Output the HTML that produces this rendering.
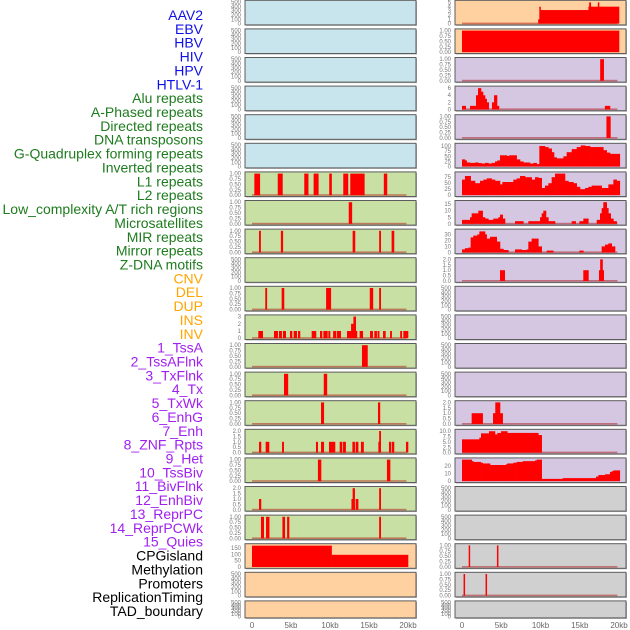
<!DOCTYPE html>
<html><head><meta charset="utf-8">
<style>
html,body{margin:0;padding:0;background:#fff;}
svg{display:block;font-family:"Liberation Sans",sans-serif;}
</style></head>
<body>
<svg id="chart" width="630" height="630" viewBox="0 0 630 630" xmlns="http://www.w3.org/2000/svg"></svg>
<script>
// ---- track labels ----
const trackLabels = ["AAV2","EBV","HBV","HIV","HPV","HTLV-1","Alu repeats","A-Phased repeats","Directed repeats","DNA transposons","G-Quadruplex forming repeats","Inverted repeats","L1 repeats","L2 repeats","Low_complexity A/T rich regions","Microsatellites","MIR repeats","Mirror repeats","Z-DNA motifs","CNV","DEL","DUP","INS","INV","1_TssA","2_TssAFlnk","3_TxFlnk","4_Tx","5_TxWk","6_EnhG","7_Enh","8_ZNF_Rpts","9_Het","10_TssBiv","11_BivFlnk","12_EnhBiv","13_ReprPC","14_ReprPCWk","15_Quies","CPGisland","Methylation","Promoters","ReplicationTiming","TAD_boundary"];
const labelGroups = ["v","v","v","v","v","v","g","g","g","g","g","g","g","g","g","g","g","g","g","o","o","o","o","o","p","p","p","p","p","p","p","p","p","p","p","p","p","p","p","k","k","k","k","k"];
const xTickLabels = ["0","5kb","10kb","15kb","20kb"];
const xTickValues = [0,5,10,15,20];

// ---- left column segments [startKb, endKb, value] ----
const L_row6 = [[0.3,1.0,1],[3.3,3.9,1],[6.7,7.2,1],[7.9,8.5,1],[9.9,10.2,1],[11.7,12.3,1],[12.6,14.4,1],[16.9,17.3,1]];
const L_row7 = [[12.4,12.8,1]];
const L_row8 = [[0.9,1.1,1],[3.7,3.95,1],[12.9,13.2,1],[16.3,16.5,1],[17.9,18.2,1]];
const L_row10 = [[1.7,1.9,1],[3.8,4.1,1],[9.5,10.1,1],[15.1,15.5,1],[16.3,16.5,1]];
const L_row11 = [[0.81,1.37,1],[2.82,3.29,1],[3.46,3.8,1],[3.97,4.32,1],[4.87,5.13,1],[5.34,5.73,1],[5.9,6.15,1],[7.65,8.2,1],[8.72,8.97,1],[9.15,9.66,1],[9.79,10.0,1],[10.4,10.77,1],[10.9,11.37,1],[12.18,12.7,1],[12.7,13.0,2],[13.0,13.3,3],[13.3,13.4,1],[13.8,14.2,1],[15.13,15.47,1],[15.68,15.98,1],[16.1,16.3,1],[16.8,17.1,1],[17.7,17.9,1],[19.0,19.2,1],[19.4,20.0,1]];
const L_row12 = [[14.1,14.8,1]];
const L_row13 = [[4.1,4.6,1],[9.2,9.6,1]];
const L_row14 = [[8.85,9.2,1],[16.15,16.4,1]];
const L_row15 = [[0.9,1.15,1],[1.75,2.18,1],[3.85,4.06,1],[8.2,8.42,1],[8.85,9.2,1],[9.87,10.64,1],[11.24,11.54,1],[11.67,12.0,1],[12.87,13.16,1],[13.29,13.6,1],[13.97,14.3,1],[16.2,16.3,1],[16.3,16.5,2],[17.56,17.82,1],[17.95,18.2,1],[19.74,20.0,1]];
const L_row16 = [[8.45,8.85,1],[17.3,17.7,1]];
const L_row17 = [[0.9,1.15,1],[12.75,12.9,1],[12.9,13.16,2],[13.29,13.6,1],[16.3,16.5,2]];
const L_row18 = [[1.15,1.5,1],[1.8,2.2,1],[3.9,4.2,1],[4.5,4.75,1],[16.3,16.5,1]];
const L_row19 = [[0,10.2,170],[10.2,20,97]];

// ---- right column ----
const R_row0 = [[9.7,9.85,1],[9.85,10.0,4],[10.0,16.1,3.2],[16.1,16.2,4],[16.2,16.4,5],[16.4,17.3,4],[17.3,17.45,5],[17.45,20,4]];
const R_row1 = [[0,20,1]];
const R_row2 = [[17.6,18.05,1]];
const R_row3 = [[0,0.47,1],[1.02,1.78,1],[1.78,2.04,4],[2.04,2.42,6],[2.42,2.68,5],[2.68,2.93,4],[2.93,3.14,3],[3.14,3.4,2],[3.82,4.08,2],[4.08,4.46,4],[4.46,4.71,1],[18.2,18.85,1]];
const R_row4 = [[18.4,18.9,1]];
const gquadX = [0,.38,.59,1.02,1.66,2.08,2.51,2.93,3.35,3.78,4.2,4.5,4.84,5.69,6.03,6.96,7.39,7.81,8.66,9.09,9.51,9.85,10.57,11.0,11.42,11.72,12.06,12.91,13.33,13.97,14.61,15.12,15.67,16.31,18.0,18.43,18.85,20.1];
const gquadV = [35,30,20,18,20,17,15,18,15,18,25,30,55,52,55,35,25,20,15,18,12,100,95,88,70,45,40,50,70,85,95,103,100,95,80,68,62];
const invX = [0,.38,1.1,1.66,2.29,2.72,3.14,3.78,4.2,4.84,5.14,5.69,6.54,6.96,7.39,8.03,8.87,9.3,9.72,10.15,10.57,11.0,11.42,11.85,13.12,13.55,14.18,14.61,15.03,15.67,16.09,16.52,17.79,18.64,19.28,19.7,20.1];
const invV = [65,80,60,50,60,65,70,65,60,45,55,55,65,70,80,75,65,75,72,30,40,50,75,92,60,55,50,35,25,30,35,40,30,45,65,60];
const lowX = [0,1.02,1.23,1.44,2.08,2.63,2.93,3.35,3.99,4.63,4.84,5.18,5.48,6.75,7.81,8.45,9.94,10.15,10.36,10.7,11.0,11.85,13.97,14.48,14.95,15.46,16.09,17.16,17.58,17.79,18.0,18.43,18.64,18.94,19.28,19.7,20.1];
const lowV = [3,5,8,8,10,5,4,3,4,5,7,4,0,2,0,2,5,8,10,5,2,0,2,0,2,4,0,3,8,12,18,12,8,4,2,0];
const mirX = [0,.38,.81,1.1,1.44,1.95,2.21,2.93,3.14,3.57,4.42,4.84,5.27,5.9,6.75,7.6,8.24,8.45,8.87,9.72,10.15,10.79,11.63,14.95,15.46,17.79,18.22,18.64,19.07,19.49,20.1];
const mirV = [5,7,8,25,28,30,35,30,23,26,18,6,4,0,5,4,5,18,23,10,0,3,0,3,0,10,13,15,10,0];
const R_row9 = [[4.84,5.44,1],[15.45,16.1,1],[17.45,17.6,1],[17.6,17.9,2],[17.9,18.05,1]];
const R_row14 = [[1.23,2.63,1],[3.95,4.24,1],[4.24,4.84,2],[4.84,5.18,1]];
const hetX = [0,2.21,2.42,3.44,4.2,4.5,4.97,5.77,9.72,10.15];
const hetV = [6.2,7,9,10,8.5,9.2,10,9.2,8.2];
const tssX = [0,1.23,1.44,2.38,2.63,3.57,5.6,5.77,6.54,6.96,7.73,9.3,9.51,10.15,12.82,17.07,17.37,18.22,18.85,19.07,19.28,20.1];
const tssV = [28,26,25,24,23,21,22,23,24,25,26,27,28,3,4,6,8,9,12,13,14];
const R_row19 = [[0.85,1.0,1],[4.45,4.6,1]];
const R_row20 = [[0.2,0.35,1],[3.0,3.15,1]];

// tick label sets
const t500 = ["0","100","200","300","400","500"];
const t1 = ["0.00","0.25","0.50","0.75","1.00"];
const t3 = ["0","1","2","3"];
const t2 = ["0.0","0.5","1.0","1.5","2.0"];
const tCpg = ["0","50","100","150"];
const t5 = ["0","1","2","3","4","5"];
const t6 = ["0","2","4","6"];
const t100 = ["0","25","50","75","100"];
const t75 = ["0","25","50","75"];
const t15 = ["0","5","10","15"];
const t30 = ["0","10","20","30"];
const t10 = ["0.0","2.5","5.0","7.5","10.0"];
const t20 = ["0","10","20"];

function stepSegs(xs, vs){const s=[];for(let i=0;i<vs.length;i++){s.push([xs[i],xs[i+1],vs[i]]);}return s;}

const BLUE="#c8e4ec",GREEN="#c8e0a4",ORANGE="#ffd1a0",PURPLE="#d5c6e2",GRAY="#d0d0d0";
// [bg, ymax, ticks(labels), tickMax, segs, baseline]
const leftPanels = [
 [BLUE,500,t500,500,[],false],[BLUE,500,t500,500,[],false],[BLUE,500,t500,500,[],false],
 [BLUE,500,t500,500,[],false],[BLUE,500,t500,500,[],false],[BLUE,500,t500,500,[],false],
 [GREEN,1,t1,1,L_row6,true],[GREEN,1,t1,1,L_row7,true],[GREEN,1,t1,1,L_row8,true],
 [GREEN,500,t500,500,[],false],[GREEN,1,t1,1,L_row10,true],[GREEN,3,t3,3,L_row11,true],
 [GREEN,1,t1,1,L_row12,true],[GREEN,1,t1,1,L_row13,true],[GREEN,1,t1,1,L_row14,true],
 [GREEN,2,t2,2,L_row15,true],[GREEN,1,t1,1,L_row16,true],[GREEN,2,t2,2,L_row17,true],
 [GREEN,1,t1,1,L_row18,true],[ORANGE,172,tCpg,150,L_row19,false],
 [ORANGE,500,t500,500,[],false],[ORANGE,500,t500,500,[],false]
];
const rightPanels = [
 [ORANGE,5.1,t5,5,R_row0,true],[ORANGE,1,t1,1,R_row1,false],[PURPLE,1,t1,1,R_row2,true],
 [PURPLE,6.1,t6,6,R_row3,true],[PURPLE,1,t1,1,R_row4,true],[PURPLE,105,t100,100,stepSegs(gquadX,gquadV),false],
 [PURPLE,90,t75,75,stepSegs(invX,invV),false],[PURPLE,16.5,t15,15,stepSegs(lowX,lowV),true],[PURPLE,36,t30,30,stepSegs(mirX,mirV),true],
 [PURPLE,2,t2,2,R_row9,true],[PURPLE,500,t500,500,[],false],[PURPLE,500,t500,500,[],false],
 [PURPLE,500,t500,500,[],false],[PURPLE,500,t500,500,[],false],[PURPLE,2,t2,2,R_row14,true],
 [PURPLE,10.1,t10,10,stepSegs(hetX,hetV),true],[PURPLE,28,t20,20,stepSegs(tssX,tssV),false],[GRAY,500,t500,500,[],false],
 [GRAY,500,t500,500,[],false],[GRAY,1,t1,1,R_row19,true],[GRAY,1,t1,1,R_row20,true],[GRAY,500,t500,500,[],false]
];

const NS="http://www.w3.org/2000/svg";
const svg=document.getElementById("chart");
function mk(tag,attrs,parent){const e=document.createElementNS(NS,tag);for(const k in attrs)e.setAttribute(k,attrs[k]);(parent||svg).appendChild(e);return e;}

const colors={v:"#1010e8",g:"#1e7b1e",o:"#ffa500",p:"#a020f0",k:"#000"};
trackLabels.forEach((t,i)=>{
  const e=mk("text",{x:203,y:15+i*13.86+5,"text-anchor":"end","font-size":"14",fill:colors[labelGroups[i]]});
  e.textContent=t;
  
  
});

function drawColumn(panels,px,pw,x0,scale,name){
  panels.forEach((p,i)=>{
    const [bg,ymax,ticks,tmax,segs,base]=p;
    const top=i*28.6+0.3, h=(i===21)?17:24.6;
    const g=mk("g",{});
    
    
    mk("rect",{x:px+1,y:top+1,width:pw,height:h,fill:"#b0b0b0"},g);
    const r=mk("rect",{x:px,y:top,width:pw,height:h,fill:bg,stroke:"#5c5c5c","stroke-width":1},g);
    
    
    const yTop=top+1.7, yBot=top+h-1.3;
    const ys=v=>yBot-(v/ymax)*(yBot-yTop);
    const xs=k=>x0+k*scale;
    if(base){
      const b=mk("rect",{x:xs(0),y:yBot-1,width:xs(19.8)-xs(0),height:1.6,fill:"rgba(170,0,0,0.45)"},g);
      
      
    }
    segs.forEach(s=>{
      const v=Math.min(s[2],ymax);
      if(v<=0)return;
      const w=Math.max(xs(s[1])-xs(s[0]),1.2);
      const bar=mk("rect",{x:xs(s[0]),y:ys(v),width:w+0.3,height:yBot-ys(v),fill:"#ff0000"},g);
      
      
    });
    const n=ticks.length;
    ticks.forEach((t,j)=>{
      const val=tmax*j/(n-1);
      const tx=mk("text",{x:px-4,y:ys(val)+2,"text-anchor":"end","font-size":"6",fill:"#777"},g);
      tx.textContent=t;
      
      
    });
  });
  xTickValues.forEach((v,j)=>{
    const t=mk("text",{x:x0+v*scale,y:628,"text-anchor":"middle","font-size":"8",fill:"#666"});
    t.textContent=xTickLabels[j];
    
    
  });
}
drawColumn(leftPanels,245,171,252,7.8,'left');
drawColumn(rightPanels,455,171,462,7.85,'right');
</script>
</body></html>
